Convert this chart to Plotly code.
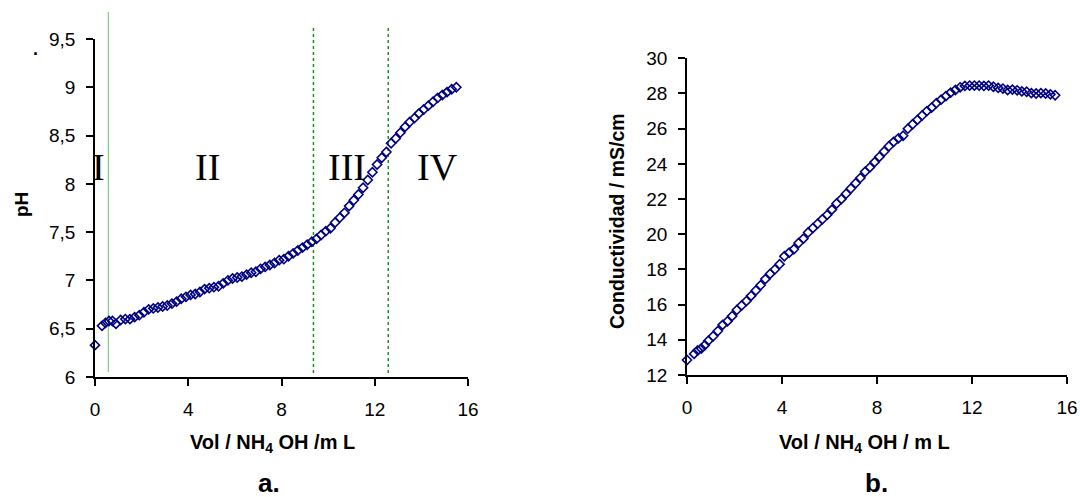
import plotly.graph_objects as go

# ---------------- data ----------------
vol = [0, 0.3, 0.45, 0.6, 0.75, 0.9, 1.1, 1.3, 1.5, 1.7, 1.9, 2.1, 2.3, 2.5, 2.7, 2.9,
       3.1, 3.3, 3.5, 3.7, 3.9, 4.1, 4.3, 4.5, 4.7, 4.9, 5.1, 5.3, 5.5, 5.7, 5.9,
       6.1, 6.3, 6.5, 6.7, 6.9, 7.1, 7.3, 7.5, 7.7, 7.9, 8.1, 8.3, 8.5, 8.7, 8.9,
       9.1, 9.3, 9.5, 9.7, 9.9, 10.1, 10.3, 10.5, 10.7, 10.9, 11.1, 11.3, 11.5, 11.7, 11.9,
       12.1, 12.3, 12.5, 12.7, 12.9, 13.1, 13.3, 13.5, 13.7, 13.9, 14.1, 14.3, 14.5, 14.7, 14.9,
       15.1, 15.3, 15.5]

ph = [6.33, 6.53, 6.56, 6.58, 6.58, 6.55, 6.59, 6.60, 6.60, 6.62, 6.64, 6.67, 6.70, 6.71, 6.72, 6.73,
      6.74, 6.76, 6.78, 6.81, 6.83, 6.85, 6.86, 6.88, 6.91, 6.92, 6.93, 6.94, 6.97, 7.00, 7.02,
      7.03, 7.04, 7.06, 7.08, 7.09, 7.12, 7.14, 7.16, 7.18, 7.21, 7.22, 7.25, 7.28, 7.31, 7.34,
      7.37, 7.40, 7.43, 7.47, 7.51, 7.54, 7.60, 7.65, 7.70, 7.77, 7.83, 7.89, 7.96, 8.04, 8.12,
      8.20, 8.27, 8.33, 8.42, 8.47, 8.53, 8.59, 8.64, 8.68, 8.73, 8.77, 8.81, 8.85, 8.89, 8.92,
      8.95, 8.98, 9.00]

cond = [12.85, 13.2, 13.4, 13.5, 13.7, 13.95, 14.2, 14.5, 14.85, 15.05, 15.35, 15.7, 15.95, 16.2, 16.5, 16.8,
        17.1, 17.45, 17.75, 18.0, 18.3, 18.75, 18.95, 19.15, 19.5, 19.75, 20.1, 20.35, 20.6, 20.85, 21.1,
        21.4, 21.75, 22.0, 22.3, 22.6, 22.9, 23.2, 23.55, 23.8, 24.1, 24.4, 24.7, 25.0, 25.25, 25.45,
        25.6, 26.0, 26.25, 26.5, 26.75, 27.0, 27.2, 27.45, 27.65, 27.85, 28.05, 28.2, 28.35, 28.43, 28.45,
        28.45, 28.45, 28.43, 28.45, 28.38, 28.32, 28.28, 28.2, 28.22, 28.18, 28.12, 28.1, 28.02, 28.0, 28.02,
        28.0, 27.95, 27.9]

region_labels = ["I", "II", "III", "IV"]
region_label_x = [0.17, 4.81, 10.8, 14.68]
region_label_y = [8.17, 8.17, 8.17, 8.17]

boundary_solid = [0.57]
boundary_dotted = [9.37, 12.58]

x_ticks = [0, 4, 8, 12, 16]
ph_ticks = [6, 6.5, 7, 7.5, 8, 8.5, 9, 9.5]
cond_ticks = [12, 14, 16, 18, 20, 22, 24, 26, 28, 30]

# ---------------- figure ----------------
W, H = 1080, 497
NAVY = "#000080"
SANS = "Liberation Sans, Arial, sans-serif"


def px(x):
    return x / W


def py(y):
    return 1 - y / H


fig = go.Figure()

marker = dict(symbol="diamond-open", size=7, color=NAVY, line=dict(color=NAVY, width=1.6))

fig.add_trace(go.Scatter(x=vol, y=ph, mode="markers", marker=marker,
                         xaxis="x", yaxis="y", cliponaxis=False, showlegend=False))
fig.add_trace(go.Scatter(x=vol, y=cond, mode="markers", marker=marker,
                         xaxis="x2", yaxis="y2", cliponaxis=False, showlegend=False))

axis_common = dict(showgrid=False, zeroline=False, showline=True, linecolor="black", linewidth=1.5,
                   ticks="outside", ticklen=7, tickwidth=1.5, tickcolor="black", automargin=False,
                   ticklabelstandoff=7,
                   tickfont=dict(family=SANS, size=19, color="black"), fixedrange=True)

fig.update_layout(
    width=W, height=H,
    margin=dict(l=0, r=0, t=0, b=0, autoexpand=False),
    paper_bgcolor="white", plot_bgcolor="rgba(0,0,0,0)",
    separators=",.",
    font=dict(family=SANS, color="black"),
    hovermode=False,
    xaxis=dict(domain=[px(95), px(468)], range=[0, 16], tickvals=x_ticks, anchor="y", **axis_common),
    yaxis=dict(domain=[py(377), py(39)], range=[6, 9.5], tickvals=ph_ticks, anchor="x", **axis_common),
    xaxis2=dict(domain=[px(687), px(1067)], range=[0, 16], tickvals=x_ticks, anchor="y2", **axis_common),
    yaxis2=dict(domain=[py(375), py(58.3)], range=[12, 30], tickvals=cond_ticks, anchor="x2", **axis_common),
)

# boundary lines (pH plot)
for xv in boundary_solid:
    fig.add_shape(type="line", xref="x", yref="paper", x0=xv, x1=xv,
                  y0=py(372), y1=py(12), layer="below",
                  line=dict(color="#5cc45c", width=1))
for xv in boundary_dotted:
    fig.add_shape(type="line", xref="x", yref="paper", x0=xv, x1=xv,
                  y0=py(373), y1=py(26), layer="below",
                  line=dict(color="#119911", width=1.5, dash="dot"))

# region labels
for t, xv, yv in zip(region_labels, region_label_x, region_label_y):
    fig.add_annotation(x=xv, y=yv, xref="x", yref="y", text=t, showarrow=False,
                       xanchor="center", yanchor="middle",
                       font=dict(family="Liberation Serif, Times New Roman, serif", size=38, color="black"))


def label(x, y, text, size, angle=0):
    fig.add_annotation(x=px(x), y=py(y), xref="paper", yref="paper", text=text,
                       showarrow=False, textangle=angle, xanchor="center", yanchor="middle",
                       font=dict(family=SANS, size=size, color="black"))


# axis titles and captions
label(22, 205, "<b>pH</b>", 19, -90)
label(35, 49, "<b>.</b>", 18)
label(272, 443, "<b>Vol / NH<sub>4</sub> OH /m L</b>", 20)
label(269, 483, "<b>a.</b>", 26)
label(617, 221, "<b>Conductividad / mS/cm</b>", 19.5, -90)
label(864, 443, "<b>Vol / NH<sub>4</sub> OH / m L</b>", 20)
label(876, 483, "<b>b.</b>", 26)

fig.write_html("out.html", config={"displayModeBar": False},
               post_script="document.body.style.margin='0px';")
